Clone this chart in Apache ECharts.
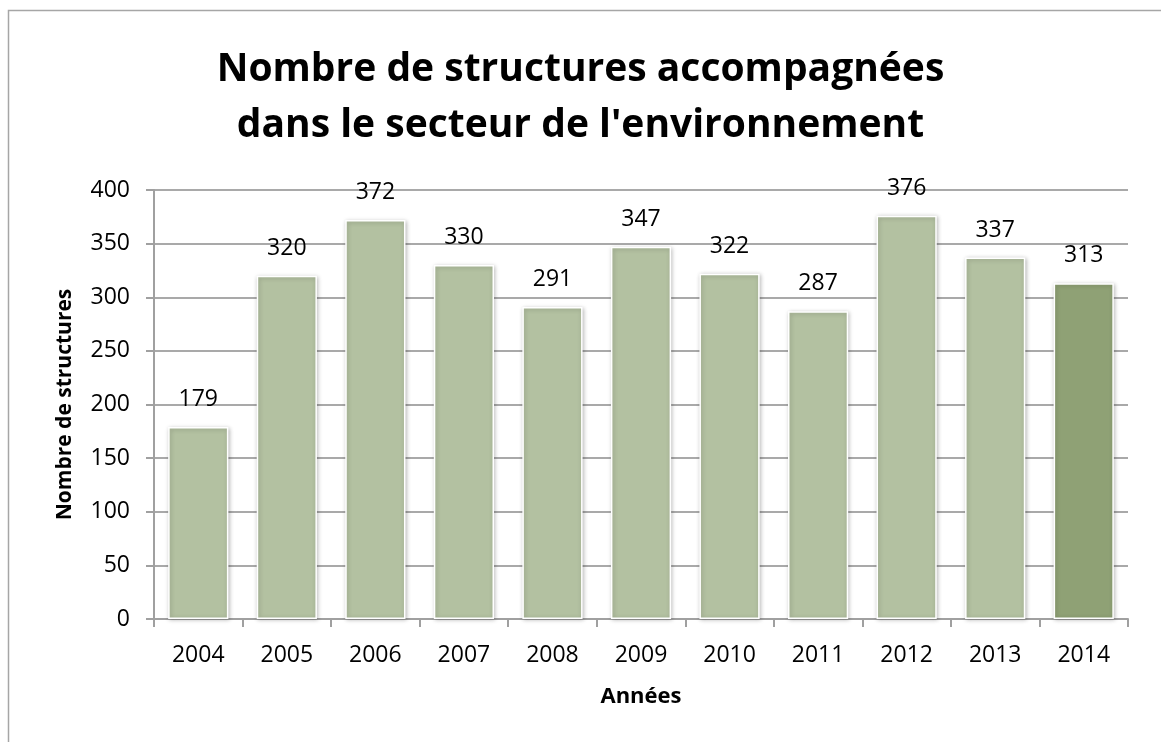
<!DOCTYPE html>
<html>
<head>
<meta charset="utf-8">
<script src="https://cdn.jsdelivr.net/npm/echarts@6/dist/echarts.min.js"></script>
<style>
  html, body { margin: 0; padding: 0; background: #fff; }
  #chart { width: 1161px; height: 742px; }
</style>
</head>
<body>
<div id="chart"></div>
<script>
// annees et valeurs
var annees = ['2004', '2005', '2006', '2007', '2008', '2009', '2010', '2011', '2012', '2013', '2014'];
var nbStructures = [179, 320, 372, 330, 291, 347, 322, 287, 376, 337, 313];
var yTicks = [0, 50, 100, 150, 200, 250, 300, 350, 400];

var clair = '#b3c1a1';
var fonce = '#8fa175';

var myChart = echarts.init(document.getElementById('chart'));

var barData = nbStructures.map(function (v, i) {
    return {
        value: v,
        itemStyle: { color: i == nbStructures.length - 1 ? fonce : clair }
    };
});

var option = {
    backgroundColor: '#fff',
    textStyle: { fontFamily: 'Open Sans' },
    graphic: [{
        type: 'rect',
        shape: { x: 8.5, y: 10.5, width: 1200, height: 800 },
        style: { fill: 'none', stroke: '#a6a6a6', lineWidth: 1.5 },
        z: -1
    }],
    title: {
        text: 'Nombre de structures accompagnées\ndans le secteur de l\'environnement',
        left: 'center',
        top: 37,
        textStyle: {
            fontFamily: 'Open Sans',
            fontWeight: 'bold',
            fontSize: 39,
            lineHeight: 56,
            color: '#000'
        }
    },
    grid: { left: 154, right: 33, top: 190, bottom: 123 },
    xAxis: {
        type: 'category',
        data: annees,
        name: 'Années',
        nameLocation: 'middle',
        nameGap: 67,
        nameTextStyle: { fontWeight: 'bold', fontSize: 22, color: '#000' },
        axisLine: { lineStyle: { color: '#a0a0a0', width: 2 } },
        axisTick: { show: true, length: 8, lineStyle: { color: '#a0a0a0', width: 2 } },
        axisLabel: { fontSize: 23, color: '#000', margin: 25 }
    },
    yAxis: {
        type: 'value',
        min: yTicks[0],
        max: yTicks[yTicks.length - 1],
        interval: 50,
        name: 'Nombre de structures',
        nameLocation: 'middle',
        nameGap: 78,
        nameTextStyle: { fontWeight: 'bold', fontSize: 21, color: '#000' },
        axisLine: { show: true, lineStyle: { color: '#a0a0a0', width: 2 } },
        axisTick: { show: true, length: 8, lineStyle: { color: '#a0a0a0', width: 2 } },
        axisLabel: { fontSize: 23, color: '#000', margin: 24 },
        splitLine: { lineStyle: { color: '#8c8c8c', width: 1.5 } }
    },
    series: [{
        type: 'bar',
        data: barData,
        barCategoryGap: '32%',
        itemStyle: {
            borderColor: '#fff',
            borderWidth: 1.5,
            shadowBlur: 4,
            shadowColor: 'rgba(0,0,0,0.25)',
            shadowOffsetX: 1,
            shadowOffsetY: 1
        },
        label: {
            show: true,
            position: 'top',
            distance: 16,
            fontSize: 23,
            color: '#000'
        }
    }]
};

myChart.setOption(option);
</script>
</body>
</html>
